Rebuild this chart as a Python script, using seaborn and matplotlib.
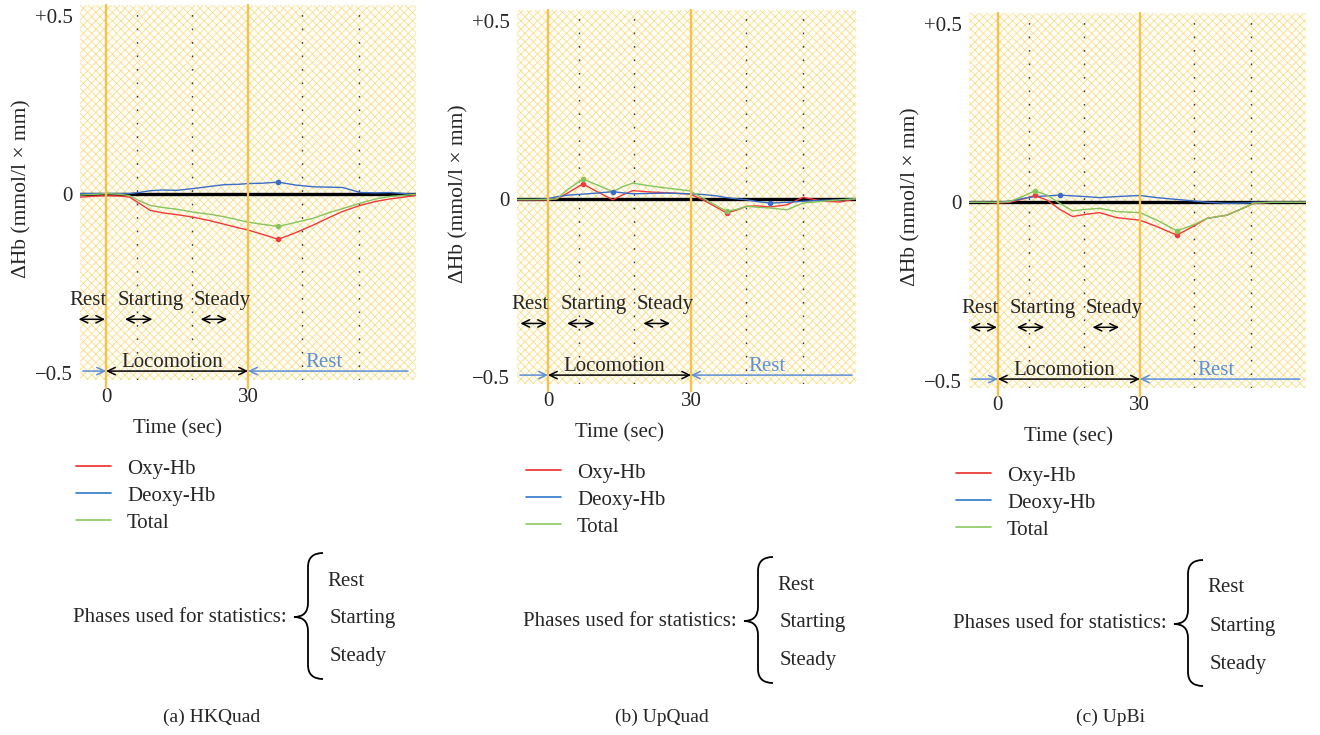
import numpy as np
import pandas as pd
import matplotlib
matplotlib.use("Agg")
import matplotlib.pyplot as plt
import seaborn as sns
from matplotlib.path import Path
from matplotlib.patches import PathPatch, Rectangle

# ---------------- data ----------------
series_names = ["Oxy-Hb", "Deoxy-Hb", "Total"]
captions = ["(a) HKQuad", "(b) UpQuad", "(c) UpBi"]
y_ticks = [0.5, 0.0, -0.5]
y_tick_labels = ["+0.5", "0", "\u22120.5"]
x_ticks = [0, 30]
x_tick_labels = ["0", "30"]
phase_labels = ["Rest", "Starting", "Steady"]

# panel (a) HKQuad
time_a = [-5.5, -2, 0, 3, 5, 7, 9.3, 12, 15, 18.4, 22, 25, 28, 30, 33, 36.4,
          40, 43.8, 47, 50, 53.7, 57, 60, 63, 65.5]
oxy_a = [-0.008, -0.005, -0.004, -0.005, -0.008, -0.025, -0.045, -0.052, -0.057,
         -0.064, -0.074, -0.084, -0.094, -0.100, -0.112, -0.126, -0.108, -0.086,
         -0.066, -0.048, -0.031, -0.020, -0.013, -0.008, -0.003]
deoxy_a = [0.002, 0.002, 0.002, 0.002, 0.002, 0.005, 0.010, 0.012, 0.011, 0.016,
           0.022, 0.027, 0.028, 0.030, 0.031, 0.034, 0.026, 0.021, 0.020, 0.019,
           0.005, 0.004, 0.005, 0.002, 0.000]
total_a = [-0.002, 0.000, 0.002, 0.000, -0.004, -0.018, -0.031, -0.037, -0.042,
           -0.050, -0.056, -0.063, -0.072, -0.078, -0.084, -0.090, -0.079, -0.067,
           -0.052, -0.040, -0.025, -0.013, -0.006, -0.003, 0.000]

# panel (b) UpQuad
time_b = [-6.5, -3, 0, 1.9, 4, 7.3, 10.3, 13.6, 15.5, 17.8, 21.4, 25, 29.8, 32.5,
          35.5, 37.5, 39.5, 41.7, 44, 46.6, 50.1, 53.5, 57.7, 61.3, 64.6]
oxy_b = [-0.003, -0.003, -0.003, 0.000, 0.015, 0.042, 0.020, -0.003, 0.010, 0.023,
         0.019, 0.017, 0.013, -0.003, -0.025, -0.040, -0.032, -0.021, -0.020,
         -0.023, -0.017, 0.004, -0.007, -0.009, 0.000]
deoxy_b = [-0.002, -0.002, 0.000, 0.006, 0.010, 0.013, 0.016, 0.020, 0.017, 0.014,
           0.015, 0.016, 0.014, 0.012, 0.008, 0.003, 0.000, -0.003, -0.008, -0.012,
           -0.010, -0.007, -0.004, -0.003, 0.000]
total_b = [-0.002, -0.002, -0.002, 0.000, 0.025, 0.055, 0.039, 0.020, 0.033, 0.044,
           0.036, 0.030, 0.022, 0.002, -0.021, -0.035, -0.030, -0.021, -0.024,
           -0.026, -0.031, -0.012, -0.007, -0.003, 0.000]

# panel (c) UpBi
time_c = [-6, -3, 0, 2.5, 5, 7.8, 10.4, 13.1, 15.8, 18.4, 21.5, 25.1, 30, 33.6,
          37.8, 41.2, 44.2, 48.4, 52.6, 54, 58, 62, 65]
oxy_c = [0.000, 0.000, -0.002, 0.000, 0.008, 0.019, 0.006, -0.020, -0.040, -0.034,
         -0.029, -0.043, -0.050, -0.068, -0.092, -0.068, -0.045, -0.036, -0.012,
         -0.003, 0.000, 0.000, 0.000]
deoxy_c = [0.000, 0.000, 0.000, 0.003, 0.010, 0.016, 0.018, 0.020, 0.018, 0.016,
           0.013, 0.016, 0.019, 0.013, 0.008, 0.004, 0.000, -0.003, -0.002, 0.000,
           0.000, 0.000, 0.000]
total_c = [0.000, 0.000, 0.000, 0.002, 0.015, 0.032, 0.020, -0.003, -0.024, -0.020,
           -0.017, -0.026, -0.029, -0.050, -0.080, -0.064, -0.045, -0.036, -0.012,
           -0.002, 0.000, 0.000, 0.000]

panel_times = [time_a, time_b, time_c]
panel_values = [[oxy_a, deoxy_a, total_a], [oxy_b, deoxy_b, total_b], [oxy_c, deoxy_c, total_c]]
grid_times = [6.5, 18.1, 41.5, 53.4]

# ---------------- style / layout ----------------
sns.set_theme(style="white")
plt.rcParams["font.family"] = ["Liberation Serif", "DejaVu Serif"]
plt.rcParams["hatch.linewidth"] = 0.55
plt.rcParams["axes.unicode_minus"] = True

W, H = 1320, 735
fig = plt.figure(figsize=(W / 100, H / 100), dpi=100)


def fx(px):
    return px / W


def fy(py):
    return 1 - py / H


colors = ["#f03a3a", "#3a6cc8", "#86c45e"]
legend_colors = ["#ee2a2a", "#2d78c8", "#8cc860"]
yellow = "#f6c14c"
hatch_col = "#f9dc86"
blue_txt = "#5b8fd6"
FS = 15

axes_px = [(80, 5, 336, 375), (517, 10, 339, 374), (969, 13, 337, 375)]
xlims = [(-5.5, 65.5), (-6.5, 64.6), (-6.1, 65.1)]
offsets = [(0, 0), (450, 4), (880, 7)]
caption_x = [212, 662, 1110]

for i in range(3):
    l, t, w, h = axes_px[i]
    ax = fig.add_axes([fx(l), fy(t + h), w / W, h / H])
    ax.set_xlim(*xlims[i])
    ax.set_ylim(-0.52, 0.53)
    ax.patch.set_facecolor("white")
    ax.add_patch(Rectangle((0, 0), 1, 1, transform=ax.transAxes, facecolor="#fffef8",
                           edgecolor=hatch_col, hatch="xxxx", lw=0, zorder=0))
    for gx in grid_times:
        ax.axvline(gx, color="#333333", lw=1.0, linestyle=(0, (1.2, 8.5)), zorder=1)
    ax.axhline(0, color="black", lw=2.4, zorder=2)
    for vx in (0, 30):
        ax.axvline(vx, ymin=-0.02, ymax=1.0, color=yellow, lw=1.7, zorder=4, clip_on=False)

    tt = panel_times[i]
    for name, vals, col in zip(series_names, panel_values[i], colors):
        df = pd.DataFrame({"t": tt, "v": vals})
        sns.lineplot(data=df, x="t", y="v", ax=ax, color=col, lw=1.0, label=name,
                     estimator=None, sort=False, legend=False, zorder=3)
        arr = np.array(vals)
        for k in (int(np.argmax(arr)), int(np.argmin(arr))):
            if abs(arr[k]) > 0.009:
                ax.plot(tt[k], arr[k], "o", ms=3, color=col, zorder=3.5, label="_nolegend_")

    # phase annotations
    for txt, tx in zip(phase_labels, [-3.8, 9.5, 24.5]):
        ax.text(tx, -0.298, txt, ha="center", va="center", fontsize=FS, zorder=5)
    for (a0, a1) in [(-5.8, -0.2), (4.0, 9.8), (20.0, 25.6)]:
        ax.annotate("", xy=(a1, -0.35), xytext=(a0, -0.35),
                    arrowprops=dict(arrowstyle="<->,head_length=0.45,head_width=0.22",
                                    color="black", lw=1.1, shrinkA=0, shrinkB=0), zorder=5)
    yb = -0.495
    ax.annotate("", xy=(0, yb), xytext=(xlims[i][0] + 0.6, yb),
                arrowprops=dict(arrowstyle="->,head_length=0.45,head_width=0.22",
                                color=blue_txt, lw=1.1, shrinkA=0, shrinkB=0), zorder=5)
    ax.annotate("", xy=(30, yb), xytext=(0, yb),
                arrowprops=dict(arrowstyle="<->,head_length=0.45,head_width=0.22",
                                color="black", lw=1.1, shrinkA=0, shrinkB=0), zorder=5)
    ax.annotate("", xy=(30, yb), xytext=(63.8, yb),
                arrowprops=dict(arrowstyle="->,head_length=0.45,head_width=0.22",
                                color=blue_txt, lw=1.1, shrinkA=0, shrinkB=0), zorder=5)
    ax.text(14, -0.47, "Locomotion", ha="center", va="center", fontsize=FS, zorder=5)
    ax.text(46, -0.47, "Rest", ha="center", va="center", fontsize=FS, color=blue_txt, zorder=5)

    # axes
    ax.set_xticks(x_ticks)
    ax.set_xticklabels(x_tick_labels)
    ax.set_yticks(y_ticks)
    ax.set_yticklabels(y_tick_labels)
    ax.tick_params(axis="x", length=0, labelsize=FS, pad=6)
    ax.tick_params(axis="y", length=0, labelsize=FS, pad=5)
    ax.set_xlabel("")
    ax.set_ylabel("")
    for s in ax.spines.values():
        s.set_visible(False)
    ax.text(15, -0.657, "Time (sec)", ha="center", va="center", fontsize=FS, clip_on=False)
    ax.text(-58 / w, 0.51, "\u0394Hb (mmol/l \u00d7 mm)", transform=ax.transAxes,
            rotation=90, ha="center", va="center", fontsize=FS + 0.5)

    # legend
    ox, oy = offsets[i]
    handles, labels = ax.get_legend_handles_labels()
    leg = ax.legend(handles[:3], labels[:3], loc="upper left",
                    bbox_to_anchor=(fx(76 + ox), fy(459 + oy)), bbox_transform=fig.transFigure,
                    frameon=False, fontsize=FS, handlelength=1.7, handletextpad=0.75,
                    borderpad=0, borderaxespad=0, labelspacing=0.36)
    for lh, c in zip(leg.get_lines(), legend_colors):
        lh.set_color(c)
        lh.set_linewidth(1.2)

    # phases
    fig.text(fx(73 + ox), fy(617 + oy), "Phases used for statistics:", ha="left",
             va="center", fontsize=FS)
    for txt, px, py in zip(phase_labels, [327, 330, 330], [581, 619, 657]):
        fig.text(fx(px + ox), fy(py + oy), txt, ha="left", va="center", fontsize=FS)
    xr, xm, xl = 323 + ox, 308 + ox, 294 + ox
    yt, ymid, ybt, r = 553 + oy, 617 + oy, 679 + oy, 14
    verts = [(xr, yt), (xm, yt), (xm, yt + r),
             (xm, ymid - r), (xm, ymid), (xl, ymid),
             (xm, ymid), (xm, ymid + r),
             (xm, ybt - r), (xm, ybt), (xr, ybt)]
    codes = [Path.MOVETO, Path.CURVE3, Path.CURVE3,
             Path.LINETO, Path.CURVE3, Path.CURVE3,
             Path.CURVE3, Path.CURVE3,
             Path.LINETO, Path.CURVE3, Path.CURVE3]
    verts_f = [(fx(a), fy(b)) for a, b in verts]
    fig.add_artist(PathPatch(Path(verts_f, codes), transform=fig.transFigure,
                             facecolor="none", edgecolor="black", lw=1.3))

    fig.text(fx(caption_x[i]), fy(717), captions[i], ha="center", va="center", fontsize=14)

fig.savefig("out.png", dpi=100)
